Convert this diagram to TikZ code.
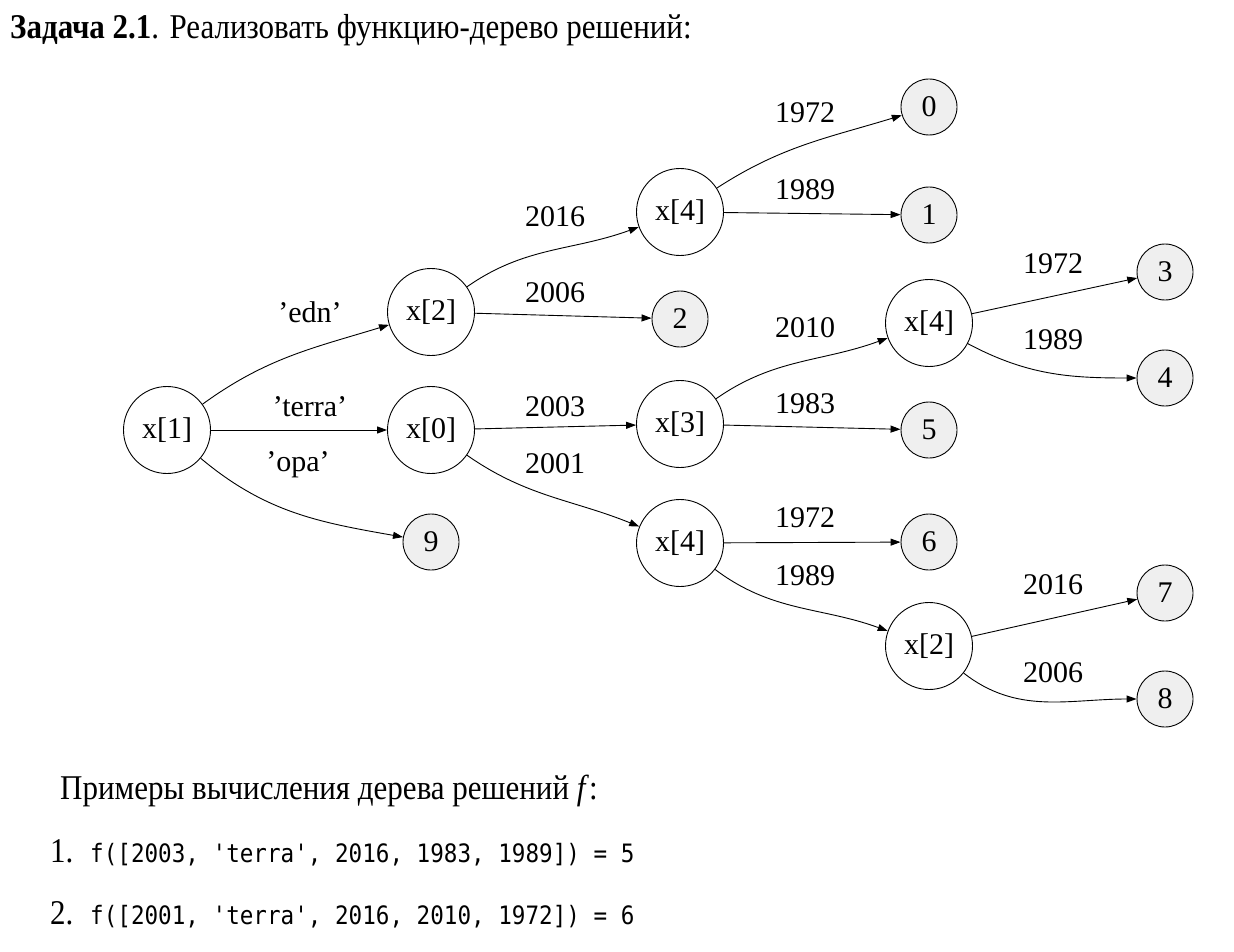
\documentclass[tikz,border=0pt]{standalone}
\usepackage{fontspec}
\usepackage{graphicx}
\setmainfont{Liberation Serif}
\setmonofont{DejaVu Sans Mono}
\usetikzlibrary{arrows.meta}
\definecolor{leafgray}{HTML}{EFEFEF}
\newcommand{\tallbox}[1]{\scalebox{1}[1.12]{#1}}
\begin{document}
\begin{tikzpicture}[x=1pt,y=1pt,
  inner/.style={circle,draw,line width=0.9pt,minimum size=87pt,inner sep=0pt,font=\fontsize{30}{32}\selectfont},
  leaf/.style={circle,draw,fill=leafgray,line width=0.9pt,minimum size=56pt,inner sep=0pt,font=\fontsize{30}{32}\selectfont},
  lbl/.style={inner sep=0pt,font=\fontsize{30}{32}\selectfont},
  txt/.style={inner sep=0pt,anchor=base west,font=\fontsize{31}{34}\selectfont},
  code/.style={inner sep=0pt,anchor=base west,font=\fontsize{22.6}{26}\ttfamily},
  edge/.style={line width=0.9pt,-{Triangle[length=10pt,width=7pt]}}]
\useasboundingbox (0,0) rectangle (1234,-952);
% title
\node[txt] (title) at (10,-39) {\tallbox{\textbf{Задача 2.1}. Реализовать функцию-дерево решений:}};
% inner nodes
\node[inner] (x1) at (167,-430) {x[1]};
\node[inner] (x2) at (431,-312) {x[2]};
\node[inner] (x0) at (431,-430) {x[0]};
\node[inner] (x4a) at (680,-212) {x[4]};
\node[inner] (x3) at (680,-424) {x[3]};
\node[inner] (x4b) at (680,-543) {x[4]};
\node[inner] (x4c) at (929,-323) {x[4]};
\node[inner] (x2b) at (929,-646) {x[2]};
% leaves
\node[leaf] (n0) at (929,-107) {0};
\node[leaf] (n1) at (929,-215) {1};
\node[leaf] (n2) at (680,-319) {2};
\node[leaf] (n3) at (1165,-272) {3};
\node[leaf] (n4) at (1165,-378) {4};
\node[leaf] (n5) at (929,-430) {5};
\node[leaf] (n6) at (929,-542) {6};
\node[leaf] (n9) at (431,-542) {9};
\node[leaf] (n7) at (1165,-593) {7};
\node[leaf] (n8) at (1165,-699) {8};
% edges
\draw[edge] (x1) to[out=36,in=197] (x2);
\draw[edge] (x1) -- (x0);
\draw[edge] (x1) to[out=-40,in=170] (n9);
\draw[edge] (x2) to[out=35,in=200] (x4a);
\draw[edge] (x2) -- (n2);
\draw[edge] (x0) -- (x3);
\draw[edge] (x0) to[out=-35,in=158] (x4b);
\draw[edge] (x4a) to[out=33,in=197] (n0);
\draw[edge] (x4a) -- (n1);
\draw[edge] (x3) to[out=35,in=200] (x4c);
\draw[edge] (x3) -- (n5);
\draw[edge] (x4b) -- (n6);
\draw[edge] (x4b) to[out=-37,in=160] (x2b);
\draw[edge] (x4c) -- (n3);
\draw[edge] (x4c) to[out=-28,in=180] (n4);
\draw[edge] (x2b) -- (n7);
\draw[edge] (x2b) to[out=-38,in=180] (n8);
% edge labels
\node[lbl] (l1) at (310,-312) {’edn’};
\node[lbl] (l2) at (310,-407) {’terra’};
\node[lbl] (l3) at (298,-465) {’opa’};
\node[lbl] (l4) at (555,-217) {2016};
\node[lbl] (l5) at (555,-293) {2006};
\node[lbl] (l6) at (555,-407) {2003};
\node[lbl] (l7) at (555,-464) {2001};
\node[lbl] (l8) at (805,-113) {1972};
\node[lbl] (l9) at (805,-190) {1989};
\node[lbl] (l10) at (805,-328) {2010};
\node[lbl] (l11) at (805,-404) {1983};
\node[lbl] (l12) at (805,-518) {1972};
\node[lbl] (l13) at (805,-576) {1989};
\node[lbl] (l14) at (1053,-264) {1972};
\node[lbl] (l15) at (1053,-340) {1989};
\node[lbl] (l16) at (1053,-585) {2016};
\node[lbl] (l17) at (1053,-673) {2006};
% examples
\node[txt] (ex) at (60,-799) {\tallbox{Примеры вычисления дерева решений \textit{f}:}};
\node[txt] (e1n) at (50,-862) {\tallbox{1.}};
\node[code] (e1) at (90,-862) {\tallbox{f([2003, 'terra', 2016, 1983, 1989]) = 5}};
\node[txt] (e2n) at (50,-924) {\tallbox{2.}};
\node[code] (e2) at (90,-924) {\tallbox{f([2001, 'terra', 2016, 2010, 1972]) = 6}};
\end{tikzpicture}
\end{document}
